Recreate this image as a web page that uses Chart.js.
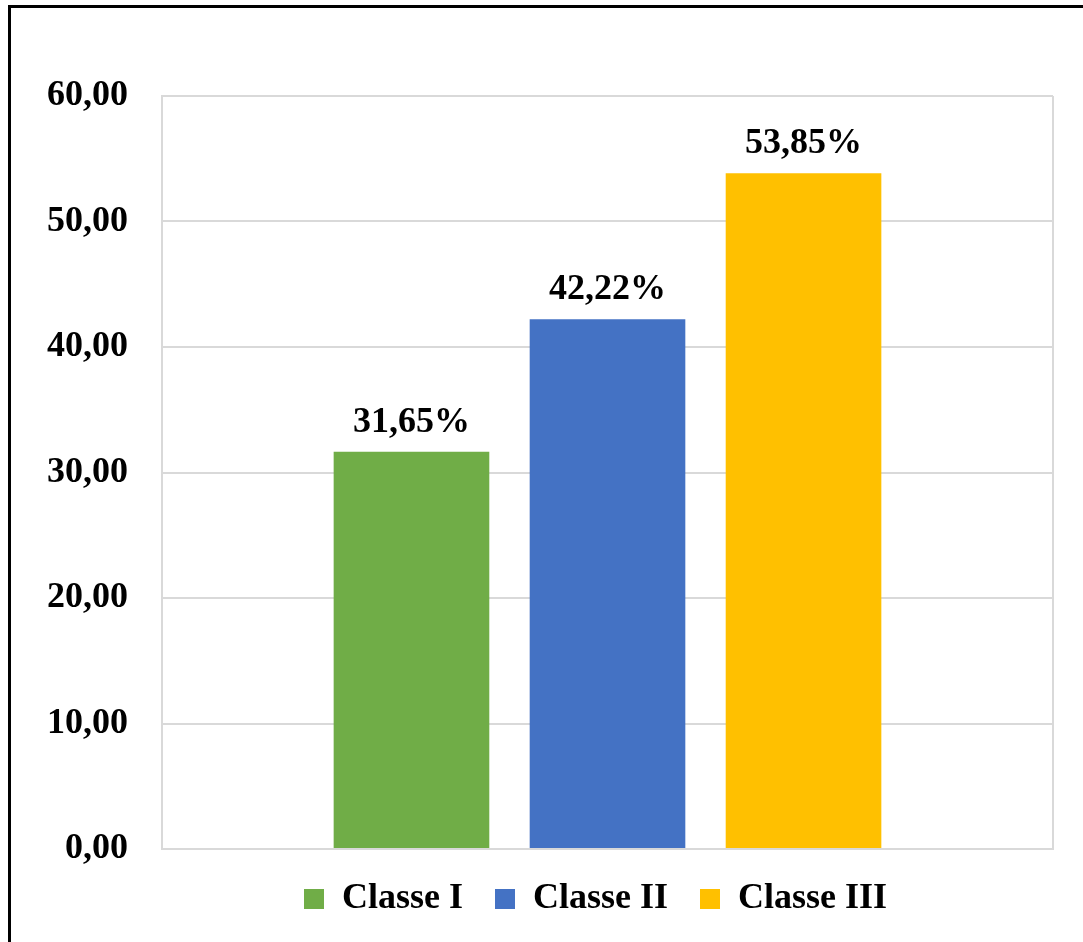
<!DOCTYPE html>
<html>
<head>
<meta charset="utf-8">
<script src="https://cdn.jsdelivr.net/npm/chart.js@4"></script>
<style>
    html, body { margin: 0; padding: 0; background: #fff; overflow: hidden; }
    #moldura {
        position: absolute; left: 8px; top: 5px; width: 1200px; height: 1100px;
        border-left: 3px solid #000; border-top: 3px solid #000;
    }
    #grafico { position: absolute; left: 0; top: 0; }
</style>
</head>
<body>
<div id="moldura"></div>
<canvas id="grafico" width="1083" height="942"></canvas>
<script>
// Dados
const classes = ["Classe I", "Classe II", "Classe III"];
const percentuais = [31.65, 42.22, 53.85];
const cores = ["#70AD47", "#4472C4", "#FFC000"];
const ticksY = ["0,00", "10,00", "20,00", "30,00", "40,00", "50,00", "60,00"];

const fonte = "'Liberation Serif', 'Times New Roman', serif";

// Rótulos acima das barras
const rotulos = {
    id: "rotulos",
    afterDatasetsDraw(chart) {
        const ctx = chart.ctx;
        ctx.save();
        ctx.font = "bold 36px " + fonte;
        ctx.fillStyle = "#000";
        ctx.textAlign = "center";
        ctx.textBaseline = "alphabetic";
        chart.data.datasets.forEach((ds, i) => {
            const bar = chart.getDatasetMeta(i).data[0];
            const txt = ds.data[0].toFixed(2).replace(".", ",") + "%";
            ctx.fillText(txt, bar.x, bar.y - 20);
        });
        ctx.restore();
    }
};

// Desloca a legenda um pouco para a esquerda
const ajusteLegenda = {
    id: "ajusteLegenda",
    afterLayout(chart) {
        chart.legend.left -= 12;
        chart.legend.right -= 12;
    }
};

new Chart(document.getElementById("grafico"), {
    type: "bar",
    data: {
        labels: [""],
        datasets: classes.map((nome, i) => ({
            label: nome,
            data: [percentuais[i]],
            backgroundColor: cores[i],
            borderWidth: 0,
            categoryPercentage: 0.66,
            barPercentage: 0.794
        }))
    },
    options: {
        responsive: false,
        animation: false,
        layout: { padding: { left: 32, right: 30, top: 96, bottom: 15 } },
        plugins: {
            legend: {
                position: "bottom",
                fullSize: false,
                labels: {
                    color: "#000",
                    font: { family: fonte, size: 36, weight: "bold" },
                    boxWidth: 20,
                    boxHeight: 20,
                    padding: 32
                }
            },
            tooltip: { enabled: false }
        },
        scales: {
            x: {
                offset: true,
                ticks: { display: false },
                grid: { color: "#d9d9d9", lineWidth: 2, drawTicks: false },
                border: { color: "#d9d9d9", width: 2 }
            },
            y: {
                min: 0,
                max: 60,
                ticks: {
                    stepSize: 10,
                    color: "#000",
                    padding: 34,
                    font: { family: fonte, size: 36, weight: "bold" },
                    callback: (v) => ticksY[Math.round(v / 10)]
                },
                grid: { color: "#d9d9d9", lineWidth: 2, drawTicks: false },
                border: { color: "#d9d9d9", width: 2 },
                afterFit(scale) { scale.width = 130; }
            }
        }
    },
    plugins: [rotulos, ajusteLegenda]
});
</script>
</body>
</html>
